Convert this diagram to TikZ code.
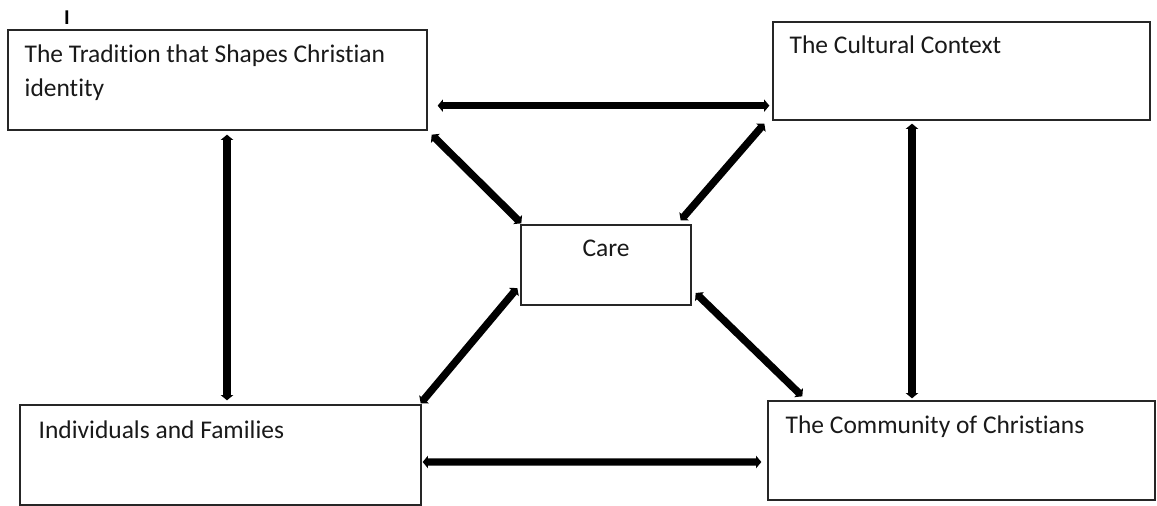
\documentclass[tikz,border=0pt]{standalone}
\usepackage{fontspec}
\setmainfont{Carlito}[Ligatures=NoCommon]
\usetikzlibrary{positioning, calc, arrows.meta}
\tikzset{
  careBox/.style={rectangle, draw=black!85, line width=0.75pt, inner sep=0pt},
  careTxt/.style={inner sep=0pt, align=left, text=black!90, font=\fontsize{14.5}{19.3}\selectfont},
  careArr/.style={line width=4.2pt, {Triangle[length=3pt,width=7pt]}-{Triangle[length=3pt,width=7pt]}},
}
\begin{document}
\begin{tikzpicture}[x=0.02cm, y=-0.02cm]
\useasboundingbox (0,0) rectangle (1157,506);
\node (mark) [inner sep=0pt, font=\bfseries\fontsize{12}{12}\selectfont] at (67,18) {I};
\node (trad) [careBox, minimum width=419*0.02cm, minimum height=100*0.02cm] at (217.5,80) {};
\node (cult) [careBox, minimum width=377*0.02cm, minimum height=98*0.02cm] at (961.5,71) {};
\node (care) [careBox, minimum width=170*0.02cm, minimum height=80*0.02cm] at (606,265) {};
\node (indiv) [careBox, minimum width=401*0.02cm, minimum height=100*0.02cm] at (220.5,455) {};
\node (comm) [careBox, minimum width=387*0.02cm, minimum height=99*0.02cm] at (961.5,450.5) {};

\node (tradTxt) [careTxt, anchor=north west] at ($(trad.north west)+(17,15)$) {The Tradition that Shapes Christian\\identity};
\node (cultTxt) [careTxt, anchor=north west] at ($(cult.north west)+(17,14)$) {The Cultural Context};
\node (careTxt) [careTxt, anchor=north] at ($(care.north)+(0,15)$) {Care};
\node (indivTxt) [careTxt, anchor=north west] at ($(indiv.north west)+(19,16)$) {Individuals and Families};
\node (commTxt) [careTxt, anchor=north west] at ($(comm.north west)+(18,15)$) {The Community of Christians};

\draw [careArr] ($(trad.south east)+(10,-25)$) -- ($(cult.south west)+(-3,-15)$);
\draw [careArr] ($(indiv.east)+(1,7)$) -- ($(comm.west)+(-6,11.5)$);
\draw [careArr] ($(trad.south)+(9.5,4)$) -- ($(indiv.north)+(6.5,-4)$);
\draw [careArr] ($(cult.south)+(-49.5,3)$) -- ($(comm.north)+(-49.5,-2)$);
\draw [careArr] ($(trad.south east)+(4,4)$) -- ($(care.north west)+(1,-1)$);
\draw [careArr] ($(cult.south west)+(-8,3)$) -- ($(care.north east)+(-11,-4)$);
\draw [careArr] ($(care.west)+(-3,23)$) -- ($(indiv.north east)+(-1,-1)$);
\draw [careArr] ($(care.east)+(4,28)$) -- ($(comm.north west)+(35,-4)$);
\end{tikzpicture}
\end{document}
